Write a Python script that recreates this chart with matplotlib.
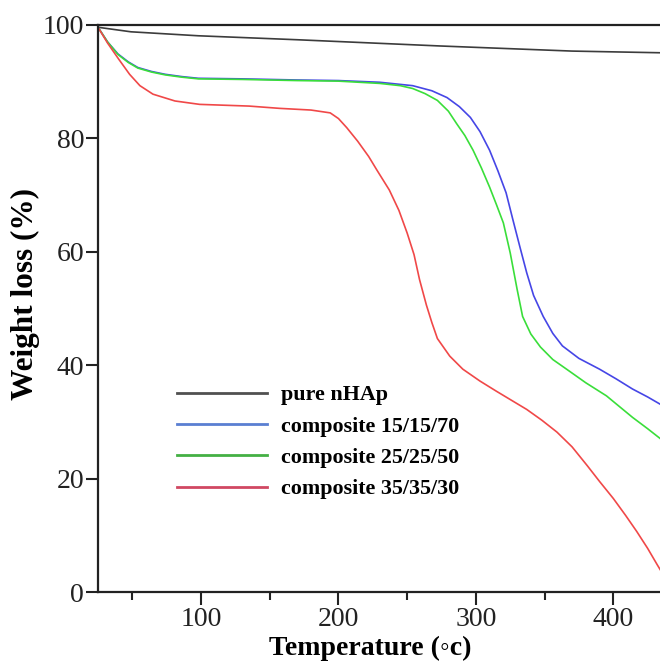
"""TGA curves: pure nHAp and three composites."""

import matplotlib
matplotlib.use("Agg")
import matplotlib.pyplot as plt
from matplotlib.ticker import MultipleLocator

# ---------- data -----------------------------------------------------------
nhap_t = [25, 49, 98, 170, 274, 370, 435]
nhap_w = [99.6, 98.8, 98.1, 97.4, 96.3, 95.4, 95.1]

c15_t = [25, 32, 39.5, 47, 54, 64, 74, 86, 98, 130, 170, 200, 230, 254, 268, 279,
         288, 296, 303, 310, 316, 322, 327, 332, 337, 342, 349, 356, 363, 375, 390,
         402, 414, 425, 435]
c15_w = [99.6, 97.0, 94.9, 93.5, 92.5, 91.8, 91.3, 90.9, 90.6, 90.5, 90.3, 90.2,
         89.9, 89.3, 88.4, 87.2, 85.6, 83.7, 81.2, 77.9, 74.3, 70.4, 65.6, 60.9,
         56.3, 52.3, 48.6, 45.6, 43.4, 41.2, 39.3, 37.6, 35.8, 34.4, 33.0]

c25_t = [25, 32, 39.5, 47, 54, 64, 74, 86, 98, 130, 170, 200, 230, 245, 254, 263,
         272, 280, 286, 292, 298, 304, 310, 315, 320, 325, 330, 334, 340, 347, 356,
         366, 380, 395, 414, 425, 435]
c25_w = [99.6, 97.0, 94.8, 93.4, 92.4, 91.7, 91.2, 90.8, 90.5, 90.4, 90.2, 90.1,
         89.7, 89.3, 88.8, 87.9, 86.7, 84.8, 82.6, 80.5, 77.9, 74.8, 71.4, 68.3,
         65.1, 59.8, 53.4, 48.6, 45.5, 43.2, 41.0, 39.3, 36.9, 34.6, 30.8, 28.8, 26.9]

c35_t = [25, 32, 40, 48, 55.5, 65, 81, 99, 135, 157, 180, 194, 200, 206, 214, 222,
         228, 237, 244, 250, 255, 259, 264, 268, 272, 281, 290.5, 303, 315, 326, 337,
         348, 359, 370, 381, 390, 400, 409, 417, 425, 432, 435]
c35_w = [99.6, 96.8, 94.0, 91.3, 89.3, 87.8, 86.6, 86.0, 85.7, 85.3, 85.0, 84.5,
         83.5, 81.9, 79.5, 76.8, 74.4, 70.9, 67.3, 63.3, 59.5, 55.1, 50.6, 47.5,
         44.7, 41.6, 39.3, 37.2, 35.4, 33.8, 32.2, 30.3, 28.2, 25.6, 22.3, 19.5, 16.5,
         13.5, 10.7, 7.7, 4.8, 3.6]

labels = ["pure nHAp", "composite 15/15/70", "composite 25/25/50", "composite 35/35/30"]
colors = ["#3c3c3c", "#4646e6", "#3ade3a", "#f04848"]
legend_colors = ["#505050", "#5a7fd2", "#44b044", "#d04862"]

xticks = [100, 200, 300, 400]
yticks = [0, 20, 40, 60, 80, 100]

# ---------- plot ------------------------------------------------------------
plt.rcParams["font.family"] = ["Liberation Serif", "DejaVu Serif"]

W, H = 660, 666
fig = plt.figure(figsize=(W / 100, H / 100), dpi=100)
ax = fig.add_axes([98 / W, (H - 592) / H, (W - 98) / W, (592 - 25) / H])

series = [(nhap_t, nhap_w), (c15_t, c15_w), (c25_t, c25_w), (c35_t, c35_w)]
for (t, w), lab, col in zip(series, labels, colors):
    ax.plot(t, w, color=col, lw=1.2, label=lab)

ax.set_xlim(25, 434)
ax.set_ylim(0, 100)
ax.set_xticks(xticks)
ax.xaxis.set_minor_locator(MultipleLocator(50))
ax.set_yticks(yticks)

for s in ("left", "bottom", "top"):
    ax.spines[s].set_linewidth(1.6)
    ax.spines[s].set_color("#222222")
ax.spines["right"].set_visible(False)

ax.tick_params(axis="both", which="major", direction="out", length=9, width=1.5,
               labelsize=20, colors="#222222", pad=2)
ax.tick_params(axis="x", which="minor", direction="out", length=6, width=1.5,
               colors="#222222")
ax.tick_params(axis="y", which="both", pad=1)

ax.set_xlabel("Temperature (\u25e6c)", fontsize=20, fontweight="bold")
ax.xaxis.set_label_coords(0.484, -0.078)
ax.set_ylabel("Weight loss (%)", fontsize=22.5, fontweight="bold")
ax.yaxis.set_label_coords(-0.103, 0.526)

leg = ax.legend(loc="upper left", bbox_to_anchor=(166 / W, (H - 374) / H),
                bbox_transform=fig.transFigure, frameon=False,
                prop={"size": 15.8, "weight": "bold"}, handlelength=4.1,
                handletextpad=0.62, labelspacing=0.50, borderpad=0)
for line, col in zip(leg.get_lines(), legend_colors):
    line.set_linewidth(2.0)
    line.set_color(col)

fig.savefig("out.png", dpi=100)
